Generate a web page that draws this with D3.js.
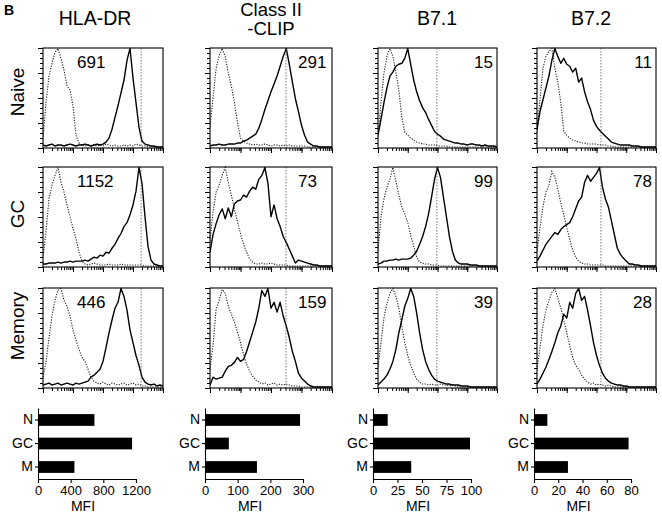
<!DOCTYPE html>
<html><head><meta charset="utf-8">
<script src="https://cdn.jsdelivr.net/npm/d3@7"></script>
<style>body{margin:0;background:#fff}svg{display:block}</style>
</head><body><svg id="c" width="662" height="514"></svg>
<script>
// ---------- data ----------
const markers = ["HLA-DR", "Class II|-CLIP", "B7.1", "B7.2"];
const subsets = ["Naive", "GC", "Memory"];
const barCategories = ["N", "GC", "M"];
const mfiHLA = [691, 1152, 446];
const mfiCLIP = [291, 73, 159];
const mfiB71 = [15, 99, 39];
const mfiB72 = [11, 78, 28];
const barMax = [1200, 300, 100, 80];
const barTicksHLA = [0, 400, 800, 1200];
const barTicksCLIP = [0, 100, 200, 300];
const barTicksB71 = [0, 25, 50, 75, 100];
const barTicksB72 = [0, 20, 40, 60, 80];
// fluorescence channel (log10 decades)
const logBins = [0,0.1,0.2,0.3,0.4,0.5,0.6,0.7,0.8,0.9,1,1.1,1.2,1.3,1.4,1.5,1.6,1.7,1.8,1.9,2,2.1,2.2,2.3,2.4,2.5,2.6,2.7,2.8,2.9,3,3.1,3.2,3.3,3.4,3.5,3.6,3.7,3.8,3.9,4];
const gateDecade = [3.27, 2.49, 1.98, 2.15];
// histograms: % of max count, stain (solid) and isotype (dotted)
const hlaNaiveStain = [2,1,2,3,1,2,2,1,2,3, 2,1,2,2,3,2,1,2,3,2, 3,5,9,18,30,42,55,68,88,100, 70,45,20,6,3,2,1,1,0,0, 0];
const hlaNaiveIso   = [8,45,72,85,96,100,90,78,62,58, 42,12,4,2,1,2,1,2,1,2, 1,3,2,1,2,1,1,2,1,2, 1,3,2,1,1,0,0,0,0,0, 0];
const hlaGCStain    = [2,2,3,3,3,4,3,4,4,5, 4,5,5,5,6,5,7,9,8,11, 10,14,13,18,22,28,33,40,44,52, 62,76,100,84,50,20,6,2,1,0, 0];
const hlaGCIso      = [8,35,68,82,92,100,85,75,62,50, 38,28,14,5,2,1,2,3,2,1, 1,1,2,1,1,1,2,1,1,1, 1,1,1,1,0,0,0,0,0,0, 0];
const hlaMemStain   = [2,3,4,2,3,4,2,3,4,3, 2,4,3,4,5,6,10,12,15,18, 26,40,55,68,80,86,100,92,78,58, 45,32,22,10,5,3,2,3,1,2, 1];
const hlaMemIso     = [10,25,50,72,88,98,100,88,82,72, 58,48,38,30,26,18,10,6,4,3, 5,3,2,4,3,2,3,4,2,3, 4,2,3,1,1,0,0,0,0,0, 0];
const clipNaiveStain = [1,2,2,3,2,2,3,3,3,4, 4,6,7,9,11,13,19,28,38,47, 56,64,72,82,92,100,84,66,49,36, 22,12,5,3,1,1,0,0,0,0, 0];
const clipNaiveIso   = [20,50,80,93,100,92,75,62,45,25, 9,6,4,3,2,3,2,2,3,2, 1,2,2,1,2,1,2,1,1,1, 1,1,0,0,0,0,0,0,0,0, 0];
const clipGCStain    = [14,32,43,52,58,48,59,50,63,66, 67,72,70,76,80,78,88,92,100,84, 50,62,48,40,30,24,17,10,3,6, 5,4,3,2,1,1,0,0,0,0, 0];
const clipGCIso      = [25,55,75,82,92,100,85,72,58,45, 33,22,14,7,4,2,2,3,2,2, 3,2,1,1,1,1,0,0,0,0, 0,0,0,0,0,0,0,0,0,0, 0];
const clipMemStain   = [2,10,8,9,10,16,21,22,25,30, 26,28,36,46,56,66,80,98,92,100, 80,86,76,86,72,62,50,36,26,14, 9,6,3,1,0,0,0,0,0,0, 0];
const clipMemIso     = [17,43,79,88,99,95,82,74,66,56, 45,33,23,16,11,7,5,3,4,2, 3,4,2,3,2,3,2,1,1,1, 0,0,0,0,0,0,0,0,0,0, 0];
const b71NaiveStain = [12,28,45,60,72,76,82,84,85,90, 100,84,68,56,47,40,35,28,22,16, 13,11,8,7,6,5,4,4,3,3, 2,3,3,2,2,1,2,1,1,1, 0];
const b71NaiveIso   = [10,45,75,92,100,92,76,58,30,15, 12,9,7,5,4,3,3,2,2,2, 1,1,1,1,0,0,0,0,0,0, 0,0,0,0,0,0,0,0,0,0, 0];
const b71GCStain    = [2,3,5,5,6,6,7,6,7,7, 7,8,11,15,22,30,40,53,70,88, 100,90,70,50,30,15,6,3,2,2, 2,1,1,1,0,0,0,0,0,0, 0];
const b71GCIso      = [15,50,68,80,88,100,86,72,60,53, 44,31,20,9,4,3,2,2,1,1, 1,0,0,0,0,0,0,0,0,0, 0,0,0,0,0,0,0,0,0,0, 0];
const b71MemStain   = [2,5,8,12,18,26,38,55,68,82, 90,100,92,75,55,38,26,18,12,8, 6,5,4,3,3,2,2,2,1,1, 1,0,0,0,0,0,0,0,0,0, 0];
const b71MemIso     = [20,45,70,85,95,100,92,80,62,45, 32,22,14,8,5,3,3,2,3,2, 2,3,2,2,1,2,1,0,0,0, 0,0,0,0,0,0,0,0,0,0, 0];
const b72NaiveStain = [18,36,48,60,72,88,100,92,85,90, 84,82,76,80,66,70,56,46,38,27, 21,17,14,11,8,5,4,3,2,2, 2,2,1,1,1,0,0,0,0,0, 0];
const b72NaiveIso   = [15,48,80,92,97,100,80,66,45,16, 12,9,7,6,5,4,4,3,3,3, 3,2,2,2,1,1,0,0,0,0, 0,0,0,0,0,0,0,0,0,0, 0];
const b72GCStain    = [5,10,16,22,26,30,34,32,37,40, 42,44,50,58,66,70,85,92,86,90, 94,100,80,68,60,46,32,18,12,8, 5,2,2,1,1,0,0,0,0,0, 0];
const b72GCIso      = [15,38,60,75,82,96,90,78,64,52, 39,27,16,9,5,3,2,2,1,1, 1,1,1,0,0,0,0,0,0,0, 0,0,0,0,0,0,0,0,0,0, 0];
const b72MemStain   = [3,8,14,20,28,36,45,55,62,74, 70,86,80,95,100,88,92,78,62,45, 32,22,14,9,6,4,3,2,2,1, 1,0,0,0,0,0,0,0,0,0, 0];
const b72MemIso     = [18,40,62,78,88,96,100,90,80,68, 55,42,30,22,18,12,8,5,3,4, 2,3,2,1,2,1,0,0,0,0, 0,0,0,0,0,0,0,0,0,0, 0];

const mfiTable = [mfiHLA, mfiCLIP, mfiB71, mfiB72];
const barTickTable = [barTicksHLA, barTicksCLIP, barTicksB71, barTicksB72];
const stainTable = [
  [hlaNaiveStain, hlaGCStain, hlaMemStain],
  [clipNaiveStain, clipGCStain, clipMemStain],
  [b71NaiveStain, b71GCStain, b71MemStain],
  [b72NaiveStain, b72GCStain, b72MemStain]];
const isoTable = [
  [hlaNaiveIso, hlaGCIso, hlaMemIso],
  [clipNaiveIso, clipGCIso, clipMemIso],
  [b71NaiveIso, b71GCIso, b71MemIso],
  [b72NaiveIso, b72GCIso, b72MemIso]];

// ---------- layout ----------
const FONT = "'Liberation Sans', Arial, Helvetica, sans-serif";
const colX = [43, 210, 378, 537], colW = [120, 122, 119, 119];
const rowY = [48, 167, 288], rowH = 100;
const titleX = [95, 271, 437, 591];
const rowLabelY = [92, 214, 326];
const barX0 = [38, 205, 373, 534], barW = [98, 98, 98, 97];
const barTop = 408, barBottom = 479;

const svg = d3.select("#c").attr("font-family", FONT);
svg.append("rect").attr("width", 662).attr("height", 514).attr("fill", "#fff");

svg.append("text").attr("x", 4).attr("y", 15).attr("font-size", 14)
  .attr("font-weight", "bold").text("B");

// column titles
markers.forEach((m, c) => {
  const lines = m.split("|");
  if (lines.length === 1) {
    svg.append("text").attr("text-anchor", "middle").attr("font-size", 19.5)
      .attr("x", titleX[c]).attr("y", 25).text(lines[0]);
  } else {
    svg.append("text").attr("text-anchor", "middle").attr("font-size", 18.5)
      .attr("x", titleX[c]).attr("y", 16).text(lines[0]);
    svg.append("text").attr("text-anchor", "middle").attr("font-size", 18.5)
      .attr("x", titleX[c]).attr("y", 35).text(lines[1]);
  }
});

// row labels
subsets.forEach((s, r) => {
  svg.append("text").attr("transform", `translate(17,${rowLabelY[r]}) rotate(-90)`)
    .attr("text-anchor", "middle").attr("dominant-baseline", "central")
    .attr("font-size", 19).text(s);
});

const defs = svg.append("defs");

// histograms
markers.forEach((m, c) => {
  subsets.forEach((s, r) => {
    const x0 = colX[c], x1 = colX[c] + colW[c];
    const y0 = rowY[r], y1 = rowY[r] + rowH;
    const x = d3.scaleLog().domain([1, 1e4]).range([x0, x1]);
    const y = d3.scaleLinear().domain([0, 100]).range([y1 - 1, y0 + 0.5]);
    const g = svg.append("g");
    const cid = `clip${c}${r}`;
    defs.append("clipPath").attr("id", cid).append("rect")
      .attr("x", x0).attr("y", y0 - 1).attr("width", x1 - x0).attr("height", y1 - y0 + 1);

    const minorAx = d3.axisBottom(x).tickValues(x.ticks()).tickSize(3).tickFormat("");
    g.append("g").attr("transform", `translate(0,${y1})`).call(minorAx)
      .call(a => a.select(".domain").remove());
    const majorAx = d3.axisBottom(x).tickValues([1, 10, 100, 1000, 10000]).tickSize(5).tickFormat("");
    g.append("g").attr("transform", `translate(0,${y1})`).call(majorAx)
      .call(a => a.select(".domain").remove());
    const yt = d3.scaleLinear().domain([0, 100]).range([y1, y0]);
    g.append("g").attr("transform", `translate(${x0},0)`)
      .call(d3.axisLeft(yt).tickValues(d3.range(0, 101, 5)).tickSize(3).tickFormat(""))
      .call(a => a.select(".domain").remove());
    g.append("g").attr("transform", `translate(${x0},0)`)
      .call(d3.axisLeft(yt).tickValues([0, 25, 50, 75, 100]).tickSize(5).tickFormat(""))
      .call(a => a.select(".domain").remove());
    g.selectAll(".tick line").attr("stroke", "#000").attr("stroke-width", 1);

    const line = d3.line().x((d, i) => x(Math.pow(10, logBins[i]))).y(d => y(d));
    const cg = g.append("g").attr("clip-path", `url(#${cid})`);
    cg.append("path").datum(isoTable[c][r]).attr("d", line).attr("fill", "none")
      .attr("stroke", "#222").attr("stroke-width", 1.1).attr("stroke-dasharray", "1.2,1.4");
    cg.append("path").datum(stainTable[c][r]).attr("d", line).attr("fill", "none")
      .attr("stroke", "#000").attr("stroke-width", 1.4).attr("stroke-linejoin", "round");
    const gx = x(Math.pow(10, gateDecade[c]));
    g.append("line").attr("x1", gx).attr("x2", gx).attr("y1", y0).attr("y2", y1)
      .attr("stroke", "#555").attr("stroke-width", 0.8).attr("stroke-dasharray", "1.5,1.5");
    g.append("rect").attr("x", x0).attr("y", y0).attr("width", x1 - x0).attr("height", y1 - y0)
      .attr("fill", "none").attr("stroke", "#000").attr("stroke-width", 1.1);

    const val = mfiTable[c][r];
    const t = g.append("text").attr("font-size", 17).attr("y", y0 + 20).text(val);
    if (c === 0) t.attr("x", x0 + 34).attr("text-anchor", "start");
    else if (c === 1) t.attr("x", x0 + 88).attr("text-anchor", "start");
    else t.attr("x", x1 - 4).attr("text-anchor", "end");
  });
});

// bar charts
markers.forEach((m, c) => {
  const xb = d3.scaleLinear().domain([0, barMax[c]]).range([barX0[c], barX0[c] + barW[c]]);
  const yb = d3.scaleBand().domain(barCategories).range([barTop, barBottom])
    .paddingInner(0.5).paddingOuter(0.26);
  const g = svg.append("g");
  g.selectAll("rect.bar").data(mfiTable[c]).join("rect").attr("class", "bar")
    .attr("x", xb(0)).attr("y", (d, i) => yb(barCategories[i]))
    .attr("width", d => xb(d) - xb(0)).attr("height", yb.bandwidth()).attr("fill", "#000");
  const ax = g.append("g").attr("transform", `translate(0,${barBottom})`)
    .call(d3.axisBottom(xb).tickValues(barTickTable[c]).tickFormat(d3.format("d"))
      .tickSize(4).tickSizeOuter(0).tickPadding(3));
  ax.selectAll("text").attr("font-size", 13).attr("font-family", FONT).attr("fill", "#000");
  const ay = g.append("g").attr("transform", `translate(${xb(0)},0)`)
    .call(d3.axisLeft(yb).tickSize(3).tickSizeOuter(0).tickPadding(2));
  ay.selectAll("text").attr("font-size", 14).attr("font-family", FONT).attr("fill", "#000");
  g.selectAll(".domain, .tick line").attr("stroke", "#000").attr("stroke-width", 1.1);
  g.append("text").attr("x", barX0[c] + barW[c] / 2 - 4).attr("y", 511)
    .attr("text-anchor", "middle").attr("font-size", 14).text("MFI");
});
</script></body></html>
